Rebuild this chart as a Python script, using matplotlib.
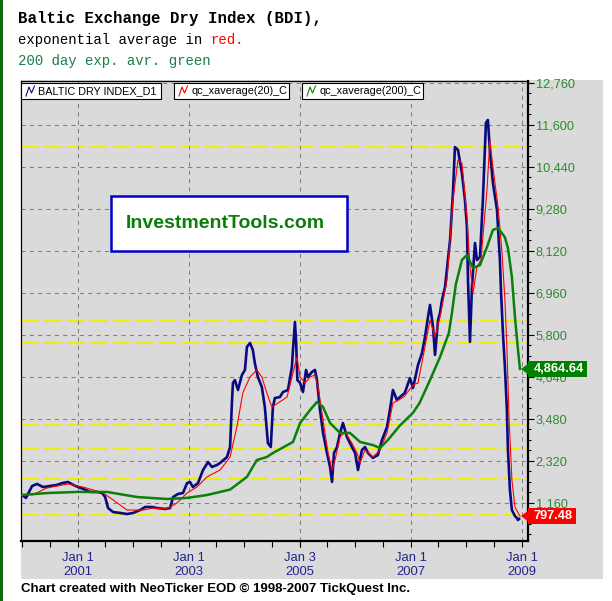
import numpy as np
import pandas as pd
import matplotlib
matplotlib.use('Agg')
import matplotlib.pyplot as plt
import matplotlib.dates as mdates
import matplotlib.transforms as mtransforms
from matplotlib.patches import Rectangle
from matplotlib.lines import Line2D
from matplotlib.ticker import MultipleLocator
from matplotlib import font_manager as fm

W, H = 612, 601

#: Baltic Dry Index
bdi_dates = ['2000-01-01', '2000-01-27', '2000-03-07', '2000-04-09', '2000-05-18', '2000-07-03',
             '2000-08-18', '2000-09-21', '2000-10-30', '2000-12-02', '2001-01-04', '2001-02-06',
             '2001-03-24', '2001-05-09', '2001-06-11', '2001-07-01', '2001-07-20', '2001-08-22',
             '2001-10-07', '2001-11-22', '2002-01-01', '2002-02-16', '2002-03-21', '2002-05-06',
             '2002-06-08', '2002-07-30', '2002-09-01', '2002-09-21', '2002-10-24', '2002-11-25',
             '2002-12-22', '2003-01-10', '2003-01-30', '2003-03-04', '2003-04-06', '2003-05-09',
             '2003-06-04', '2003-07-07', '2003-07-27', '2003-09-11', '2003-10-01', '2003-10-14',
             '2003-10-20', '2003-11-02', '2003-11-22', '2003-12-18', '2004-01-07', '2004-01-20',
             '2004-02-09', '2004-02-28', '2004-03-12', '2004-04-01', '2004-04-27', '2004-05-17',
             '2004-06-06', '2004-06-25', '2004-07-09', '2004-07-22', '2004-08-24', '2004-09-13',
             '2004-10-16', '2004-11-11', '2004-11-18', '2004-12-01', '2004-12-09', '2004-12-17',
             '2005-01-04', '2005-01-23', '2005-02-12', '2005-02-25', '2005-03-23', '2005-04-12',
             '2005-04-25', '2005-05-15', '2005-06-04', '2005-06-30', '2005-07-20', '2005-08-02',
             '2005-08-15', '2005-09-04', '2005-09-24', '2005-10-13', '2005-11-08', '2005-12-11',
             '2006-01-01', '2006-01-20', '2006-02-15', '2006-03-07', '2006-03-27', '2006-04-28',
             '2006-05-31', '2006-06-27', '2006-07-30', '2006-08-18', '2006-09-07', '2006-10-03',
             '2006-10-23', '2006-11-24', '2006-12-28', '2007-01-17', '2007-02-19', '2007-03-17',
             '2007-04-06', '2007-04-26', '2007-05-09', '2007-05-29', '2007-06-11', '2007-07-01',
             '2007-07-14', '2007-07-27', '2007-08-16', '2007-09-18', '2007-10-07', '2007-10-20',
             '2007-11-09', '2007-12-05', '2007-12-25', '2008-01-07', '2008-01-14', '2008-01-27',
             '2008-02-09', '2008-02-29', '2008-03-13', '2008-04-02', '2008-04-21', '2008-05-11',
             '2008-05-24', '2008-06-06', '2008-06-26', '2008-07-23', '2008-08-11', '2008-08-18',
             '2008-08-31', '2008-09-13', '2008-09-26', '2008-10-03', '2008-10-16', '2008-10-29',
             '2008-11-18', '2008-12-01', '2008-12-08', '2008-12-15']
bdi_vals = [1380, 1300, 1630, 1685, 1600, 1630,
            1660, 1710, 1740, 1660, 1600, 1550,
            1465, 1465, 1435, 1325, 1020, 910,
            885, 855, 885, 965, 1050, 1050,
            1020, 995, 1020, 1325, 1410, 1435,
            1710, 1740, 1600, 1710, 2070, 2290,
            2155, 2210, 2265, 2430, 2705, 4005,
            4475, 4555, 4280, 4695, 4835, 5470,
            5580, 5385, 5025, 4640, 4365, 3810,
            2815, 2705, 3810, 4060, 4085, 4225,
            4280, 4915, 5385, 6160, 5580, 4555,
            4475, 4225, 4835, 4640, 4780, 4835,
            4555, 3730, 3095, 2540, 2155, 1740,
            2540, 2705, 3095, 3370, 2985, 2705,
            2540, 2070, 2625, 2705, 2540, 2405,
            2485, 2900, 3260, 3730, 4280, 4005,
            4085, 4200, 4610, 4335, 4970, 5300,
            5745, 6300, 6630, 6020, 5250, 6215,
            6410, 6770, 7125, 8425, 9720, 10990,
            10910, 10275, 9530, 8785, 7320, 5610,
            7125, 8340, 7870, 7955, 9530, 11655,
            11740, 10910, 10000, 9250, 7870, 7040,
            5855, 4915, 3730, 2625, 1520, 965,
            800, 745, 690, 720]

#: 20 day exponential average (red)
ema20_dates = ['2000-03-07', '2000-06-13', '2000-10-30', '2001-02-06', '2001-06-18', '2001-08-22',
               '2001-11-22', '2002-03-08', '2002-05-12', '2002-08-12', '2002-10-17', '2002-12-22',
               '2003-02-25', '2003-05-02', '2003-07-27', '2003-10-01', '2003-11-15', '2003-12-24',
               '2004-02-09', '2004-03-25', '2004-04-27', '2004-05-30', '2004-07-02', '2004-08-11',
               '2004-10-10', '2004-11-18', '2004-12-14', '2005-01-04', '2005-02-06', '2005-03-11',
               '2005-04-12', '2005-05-02', '2005-06-04', '2005-07-07', '2005-08-02', '2005-08-22',
               '2005-09-24', '2005-10-27', '2005-12-11', '2006-01-14', '2006-02-03', '2006-03-07',
               '2006-04-28', '2006-06-14', '2006-07-30', '2006-09-07', '2006-11-18', '2007-01-17',
               '2007-02-19', '2007-03-24', '2007-05-09', '2007-06-11', '2007-07-14', '2007-08-29',
               '2007-10-07', '2007-11-09', '2007-12-05', '2008-01-07', '2008-01-27', '2008-02-16',
               '2008-03-13', '2008-04-08', '2008-05-18', '2008-06-06', '2008-06-26', '2008-07-30',
               '2008-08-25', '2008-09-13', '2008-09-26', '2008-10-10', '2008-10-29', '2008-11-18',
               '2008-12-21']
ema20_vals = [1380, 1575, 1685, 1600, 1435, 1245,
              965, 965, 1020, 995, 1160, 1435,
              1600, 1880, 2070, 2430, 3260, 4200,
              4640, 4835, 4640, 4200, 3810, 3920,
              4085, 4750, 5190, 4640, 4475, 4640,
              4695, 4365, 3450, 2540, 2070, 2345,
              2985, 3120, 2815, 2540, 2265, 2625,
              2430, 2625, 3095, 3920, 4085, 4420,
              4475, 5190, 6215, 5745, 6300, 7320,
              9530, 10630, 10550, 9060, 7680, 6960,
              7680, 7870, 9805, 11185, 10440, 9335,
              8065, 6770, 5470, 3535, 1795, 1050,
              797.48]

#: 200 day exponential average (green)
ema200_dates = ['2000-01-01', '2000-06-13', '2000-12-30', '2001-07-13', '2002-01-27', '2002-08-12',
                '2002-12-22', '2003-05-02', '2003-10-01', '2004-01-20', '2004-03-25', '2004-05-30',
                '2004-07-09', '2004-11-18', '2005-01-04', '2005-03-11', '2005-04-25', '2005-06-04',
                '2005-07-20', '2005-09-24', '2005-11-28', '2006-02-03', '2006-04-28', '2006-06-14',
                '2006-08-05', '2006-10-23', '2007-01-17', '2007-03-01', '2007-05-09', '2007-07-14',
                '2007-09-10', '2007-09-30', '2007-10-26', '2007-12-05', '2008-01-07', '2008-02-16',
                '2008-04-02', '2008-05-18', '2008-06-26', '2008-07-30', '2008-09-13', '2008-10-03',
                '2008-10-29', '2008-11-18', '2008-12-08', '2008-12-21']
ema200_vals = [1380, 1435, 1465, 1465, 1325, 1270,
               1300, 1380, 1530, 1880, 2345, 2430,
               2540, 2845, 3370, 3730, 3950, 3810,
               3370, 3095, 3095, 2845, 2760, 2680,
               2900, 3300, 3650, 3920, 4555, 5190,
               5855, 6400, 7200, 7870, 8010, 7650,
               7730, 8230, 8700, 8755, 8500, 8200,
               7400, 6300, 5400, 4864.64]

#: yellow reference levels
level_lines = [10990, 6190, 5580, 3310, 2650, 1820, 830]

ytick_vals = [1160, 2320, 3480, 4640, 5800, 6960, 8120, 9280, 10440, 11600, 12760]
xtick_dates = ['2001-01-01', '2003-01-01', '2005-01-03', '2007-01-01', '2009-01-01']
xtick_labels = ['Jan 1\n2001', 'Jan 1\n2003', 'Jan 3\n2005', 'Jan 1\n2007', 'Jan 1\n2009']

legend_labels = ['BALTIC DRY INDEX_D1', 'qc_xaverage(20)_C', 'qc_xaverage(200)_C']

#: colours
panel = '#dadada'
c_bdi = '#0a0a80'
c_red = '#ff0000'
c_green = '#0a800a'

#: pick a narrow sans if it exists, the original text is condensed
names = {f.name for f in fm.fontManager.ttflist}
if 'Liberation Sans Narrow' in names:
    sans, k = 'Liberation Sans Narrow', 1.22
else:
    sans, k = 'Liberation Sans', 1.0
plt.rcParams['font.family'] = [sans, 'DejaVu Sans']
mono = 'Liberation Mono'


def fx(x):
    return x / W


def fy(y):
    return 1 - y / H


fig = plt.figure(figsize=(W / 100, H / 100), dpi=100, facecolor='white')

# gray chart panel and green strip on the left edge
fig.patches.append(Rectangle((fx(21), fy(579)), 582 / W, 499 / H, transform=fig.transFigure,
                             facecolor=panel, edgecolor='none', zorder=-2))
fig.patches.append(Rectangle((0, 0), 3 / W, 1, transform=fig.transFigure,
                             facecolor='#0b6b0b', edgecolor='none', zorder=-1))

ax = fig.add_axes([fx(21), fy(541), 507 / W, 460 / H])
ax.set_facecolor(panel)

for lv in level_lines:
    ax.axhline(lv, color='#eeee00', lw=1.4, ls=(0, (9, 2.8)), zorder=1)

ax.plot(pd.to_datetime(bdi_dates), bdi_vals, color=c_bdi, lw=1.9, zorder=3)
ax.plot(pd.to_datetime(ema20_dates), ema20_vals, color=c_red, lw=0.8, zorder=4)
ax.plot(pd.to_datetime(ema200_dates), ema200_vals, color=c_green, lw=1.8, zorder=5)

ax.set_ylim(110, 12815)
ax.set_xlim(pd.Timestamp('1999-12-25'), pd.Timestamp('2009-02-12'))

ax.yaxis.tick_right()
ax.set_yticks(ytick_vals)
ax.set_yticklabels([f'{v:,}' for v in ytick_vals])
ax.yaxis.set_minor_locator(MultipleLocator(290))
ax.set_xticks(pd.to_datetime(xtick_dates))
ax.set_xticklabels(xtick_labels)
ax.xaxis.set_minor_locator(mdates.MonthLocator(bymonth=[1, 7]))

ax.grid(True, which='major', color='#808080', lw=0.75, ls=(0, (4, 4)), zorder=0)
ax.tick_params(axis='y', which='major', length=4, width=0.8, labelcolor='#2e8b2e',
               labelsize=9.2 * k, pad=1.5)
ax.tick_params(axis='y', which='minor', length=2.5, width=0.8)
ax.tick_params(axis='x', which='both', length=4, width=0.8, labelcolor='#232390',
               labelsize=9.4 * k, pad=4)
for lbl in ax.get_xticklabels():
    lbl.set_linespacing(1.2)

for side, lw in [('left', 0.9), ('top', 0.9), ('right', 1.6), ('bottom', 1.6)]:
    ax.spines[side].set_linewidth(lw)

# last value flags on the right axis (box widths in pixels)
trans = mtransforms.blended_transform_factory(ax.transAxes, ax.transData)
per_px = (12815 - 110) / 460
flag_tri = [(-0.65, 0), (0.65, 1), (0.65, -1)]
for val, col, wpx in [(ema200_vals[-1], '#008000', 59), (ema20_vals[-1], '#ff0000', 48)]:
    ax.add_patch(Rectangle((1.0, val - 8 * per_px), wpx / 507, 16 * per_px, transform=trans,
                           fc=col, ec='none', clip_on=False, zorder=8))
    ax.text(1.0 + 6 / 507, val, f'{val:,.2f}', transform=trans, ha='left', va='center',
            color='white', fontweight='bold', fontsize=9.2 * k, clip_on=False, zorder=9)
    ax.plot([0.9931], [val], marker=flag_tri, ms=8.5, color=col, mec=col,
            transform=trans, clip_on=False, zorder=8)

# legend boxes along the top of the plot
for (x0, x1), col, lab in zip([(21, 161), (174, 289), (302, 423)],
                              [c_bdi, c_red, c_green], legend_labels):
    fig.patches.append(Rectangle((fx(x0), fy(99)), (x1 - x0) / W, 16 / H,
                                 transform=fig.transFigure, fc='white', ec='black',
                                 lw=0.8, zorder=5))
    ix = np.array([0, 3, 5.5, 8.5]) + x0 + 5
    iy = np.array([96, 87, 93, 86])
    fig.lines.append(Line2D(fx(ix), fy(iy), transform=fig.transFigure, color=col,
                            lw=0.8, zorder=6))
    fig.text(fx(x0 + 17), fy(91.5), lab, ha='left', va='center', fontsize=7.8 * k,
             color='black', zorder=7)

# watermark box
fig.patches.append(Rectangle((fx(111), fy(251)), 236 / W, 55 / H, transform=fig.transFigure,
                             fc='white', ec='#0000cc', lw=1.8, zorder=5))
fig.text(fx(225), fy(223), 'InvestmentTools.com', ha='center', va='center',
         color='#0a7d0a', fontweight='bold', fontsize=14 * k, zorder=7)

# title lines
fig.text(fx(18), fy(23), 'Baltic Exchange Dry Index (BDI),', family=mono,
         fontweight='bold', fontsize=11.3, va='baseline', ha='left')
t2 = fig.text(fx(18), fy(44), 'exponential average in', family=mono, fontsize=10.1,
              va='baseline', ha='left', color='black')
fig.add_artist(plt.Annotation('red.', xy=(1, 0), xycoords=t2, xytext=(0.6 * 10.1, 0),
                              textcoords='offset points', ha='left', va='bottom',
                              family=mono, fontsize=10.1, color='#ff0000'))
fig.text(fx(18), fy(65), '200 day exp. avr. green', family=mono, fontsize=10.1,
         va='baseline', ha='left', color='#1a7f48')

fig.text(fx(21), fy(592), 'Chart created with NeoTicker EOD \u00a9 1998-2007 TickQuest Inc.',
         fontweight='bold', fontsize=9.5 * k, va='baseline', ha='left')

fig.savefig('out.png', dpi=100, facecolor='white')
